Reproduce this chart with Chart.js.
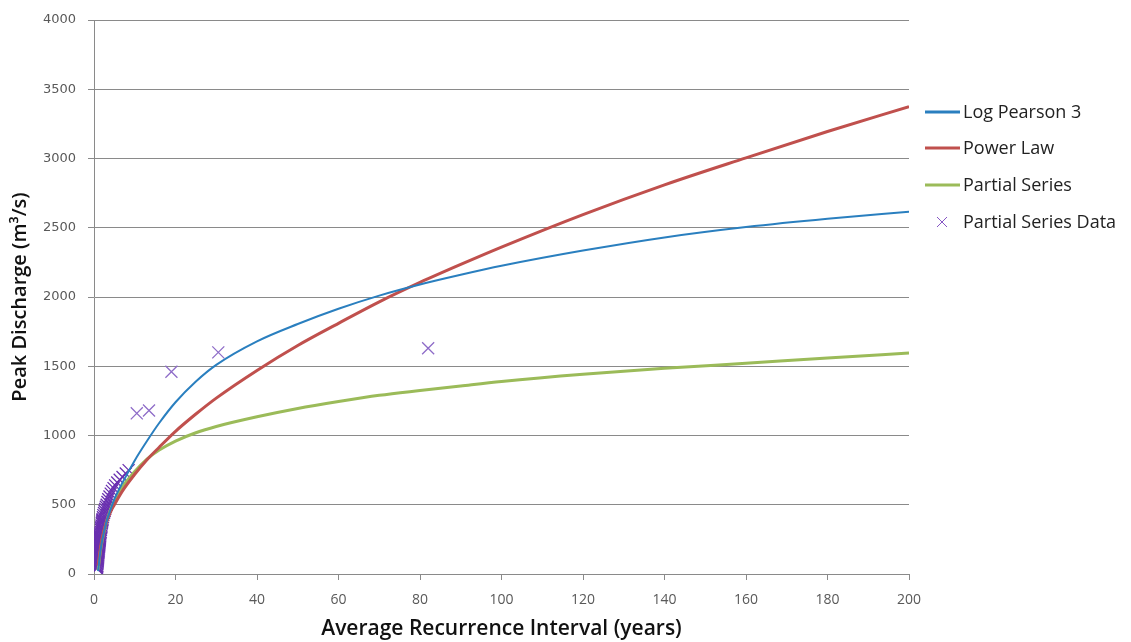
<!DOCTYPE html>
<html lang="en">
<head>
    <meta charset="UTF-8">
    <title>Peak Discharge vs Average Recurrence Interval</title>
    <script src="https://cdn.jsdelivr.net/npm/chart.js"></script>
    <style>
        html, body { margin: 0; padding: 0; background: #fff; }
        #wrap { width: 1131px; height: 642px; }
    </style>
</head>
<body>
<div id="wrap"><canvas id="flood"></canvas></div>

<script>
    // recurrence interval (years) used for the three fitted curves
    const curveYears = [1, 1.5, 2, 3, 4, 5, 7, 10, 13, 16, 20, 25, 30, 40, 50, 60, 70, 80, 90, 100, 120, 140, 160, 180, 200];
    const logPearson = [20, 150, 240, 370, 460, 540, 660, 820, 960, 1090, 1240, 1390, 1510, 1680, 1805, 1915, 2010, 2090, 2160, 2225, 2335, 2430, 2505, 2565, 2615];
    const powerLaw = [60, 170, 260, 370, 445, 500, 600, 720, 825, 915, 1030, 1155, 1270, 1470, 1650, 1810, 1965, 2105, 2235, 2360, 2595, 2810, 3005, 3195, 3375];
    const partialSeries = [30, 150, 240, 370, 460, 530, 630, 740, 830, 895, 960, 1020, 1065, 1135, 1195, 1245, 1290, 1325, 1358, 1390, 1442, 1485, 1522, 1560, 1595];

    // observed partial series points
    const dataYears = [0.7, 0.72, 0.75, 0.78, 0.8, 0.83, 0.85, 0.88, 0.9, 0.93, 0.95, 0.98, 1.0, 1.03, 1.05, 1.08, 1.1, 1.13, 1.15, 1.18, 1.2, 1.23, 1.25, 1.28, 1.3, 1.33, 1.35, 1.38, 1.4, 1.43, 1.45, 1.48, 1.5, 1.55, 1.6, 1.65, 1.7, 1.75, 1.8, 1.85, 1.9, 1.95, 2.0, 2.05, 2.1, 2.2, 2.3, 2.45, 2.6, 2.75, 2.9, 3.1, 3.3, 3.5, 3.8, 4.1, 4.4, 4.8, 5.2, 5.7, 6.3, 7.0, 7.8, 8.5, 10.5, 13.5, 19, 30.5, 82];
    const dataFlow = [40, 45, 50, 55, 60, 70, 80, 88, 95, 103, 110, 118, 125, 133, 140, 148, 155, 163, 170, 178, 185, 193, 200, 208, 215, 223, 230, 238, 245, 253, 260, 268, 275, 285, 295, 305, 320, 330, 340, 350, 365, 372, 380, 388, 395, 410, 425, 440, 455, 470, 485, 500, 520, 540, 560, 580, 600, 620, 640, 660, 680, 700, 725, 750, 1160, 1180, 1460, 1600, 1630];

    const xTicks = [0, 20, 40, 60, 80, 100, 120, 140, 160, 180, 200];
    const yTicks = [0, 500, 1000, 1500, 2000, 2500, 3000, 3500, 4000];

    const gridGrey = '#8a8a8a';
    const tickGrey = '#595959';

    function pairs(xs, ys) {
        return xs.map((x, i) => ({ x: x, y: ys[i] }));
    }

    // legend drawn to the right of the plot, like the original
    const sideLegend = {
        id: 'sideLegend',
        afterDraw(chart) {
            const ctx = chart.ctx;
            const x0 = 925, rows = [112, 148, 185, 222];
            ctx.save();
            ctx.font = '18px "Open Sans", sans-serif';
            ctx.fillStyle = '#222';
            ctx.textBaseline = 'middle';
            chart.data.datasets.forEach((ds, i) => {
                const y = rows[i];
                ctx.strokeStyle = ds.borderColor;
                if (ds.showLine === false) {
                    ctx.lineWidth = 1;
                    ctx.beginPath();
                    ctx.moveTo(x0 + 12, y - 5); ctx.lineTo(x0 + 22, y + 5);
                    ctx.moveTo(x0 + 22, y - 5); ctx.lineTo(x0 + 12, y + 5);
                    ctx.stroke();
                } else {
                    ctx.lineWidth = 3;
                    ctx.beginPath();
                    ctx.moveTo(x0, y); ctx.lineTo(x0 + 35, y);
                    ctx.stroke();
                }
                ctx.fillText(ds.label, x0 + 38, y + 1);
            });
            ctx.restore();
        }
    };

    new Chart(document.getElementById('flood'), {
        type: 'scatter',
        data: {
            datasets: [
                {
                    label: 'Log Pearson 3',
                    data: pairs(curveYears, logPearson),
                    showLine: true,
                    borderColor: '#2a7fbf',
                    borderWidth: 2,
                    pointRadius: 0,
                    cubicInterpolationMode: 'monotone'
                },
                {
                    label: 'Power Law',
                    data: pairs(curveYears, powerLaw),
                    showLine: true,
                    borderColor: '#c0504d',
                    borderWidth: 3,
                    pointRadius: 0,
                    cubicInterpolationMode: 'monotone'
                },
                {
                    label: 'Partial Series',
                    data: pairs(curveYears, partialSeries),
                    showLine: true,
                    borderColor: '#9bbb59',
                    borderWidth: 3,
                    pointRadius: 0,
                    cubicInterpolationMode: 'monotone'
                },
                {
                    label: 'Partial Series Data',
                    data: pairs(dataYears, dataFlow),
                    showLine: false,
                    borderColor: '#8656c4',
                    backgroundColor: '#8656c4',
                    // overlapping low points read darker in the original
                    pointBorderColor: ctx => (ctx.raw && ctx.raw.y < 800 ? '#6a30b0' : '#8e6cc8'),
                    pointStyle: 'crossRot',
                    pointRadius: 8.5,
                    pointBorderWidth: 1.3
                }
            ]
        },
        options: {
            responsive: true,
            maintainAspectRatio: false,
            animation: false,
            layout: { padding: { top: 20, right: 222, left: 0, bottom: 0 } },
            plugins: {
                legend: { display: false },
                tooltip: { enabled: false }
            },
            scales: {
                x: {
                    type: 'linear',
                    min: 0,
                    max: 200,
                    afterFit(scale) { scale.height = 68; },
                    afterBuildTicks(scale) { scale.ticks = xTicks.map(v => ({ value: v })); },
                    grid: { drawOnChartArea: false, color: gridGrey, tickLength: 6 },
                    border: { color: gridGrey },
                    ticks: {
                        color: tickGrey,
                        padding: 12,
                        maxRotation: 0,
                        font: { family: '"Open Sans", sans-serif', size: 14 }
                    },
                    title: {
                        display: true,
                        text: 'Average Recurrence Interval (years)',
                        color: '#111',
                        padding: { top: 0, bottom: 0 },
                        font: { family: '"Open Sans", sans-serif', size: 21, weight: '600' }
                    }
                },
                y: {
                    min: 0,
                    max: 4000,
                    afterFit(scale) { scale.width = 94; },
                    afterBuildTicks(scale) { scale.ticks = yTicks.map(v => ({ value: v })); },
                    grid: { color: gridGrey, tickLength: 6 },
                    border: { color: gridGrey },
                    ticks: {
                        color: tickGrey,
                        padding: 12,
                        callback: v => String(v),
                        font: { family: '"DejaVu Sans", sans-serif', size: 13 }
                    },
                    title: {
                        display: true,
                        text: 'Peak Discharge (m³/s)',
                        color: '#111',
                        padding: { top: 8, bottom: 0 },
                        font: { family: '"Open Sans", sans-serif', size: 20, weight: '600' }
                    }
                }
            }
        },
        plugins: [sideLegend]
    });
</script>
</body>
</html>
